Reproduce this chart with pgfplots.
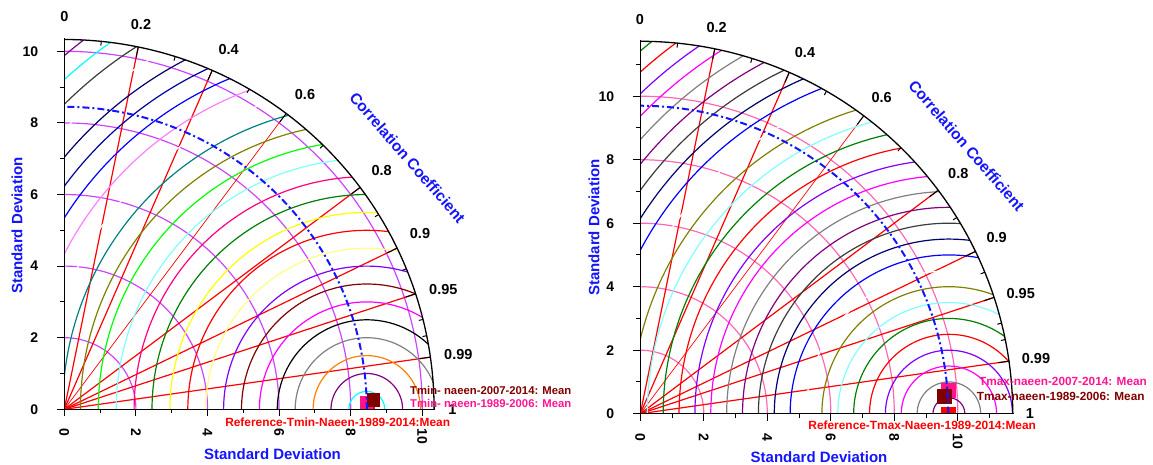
\documentclass[border=0pt]{standalone}
\usepackage{fontspec}
\setmainfont{Liberation Sans}
\usepackage{pgfplots}
\pgfplotsset{compat=1.18}
\newcommand{\fs}[1]{\fontsize{#1pt}{#1pt}\selectfont\bfseries}
\definecolor{stdviolet}{RGB}{204,68,255}
\definecolor{stdpink}{RGB}{255,105,180}
\definecolor{cpurple}{RGB}{128,0,128}
\definecolor{cgray}{RGB}{128,128,128}
\definecolor{cmag}{RGB}{255,0,255}
\definecolor{cbviolet}{RGB}{128,0,255}
\definecolor{cgreen}{RGB}{0,128,0}
\definecolor{clcyan}{RGB}{128,255,255}
\definecolor{colive}{RGB}{128,128,0}
\definecolor{cblue}{RGB}{0,0,255}
\definecolor{cnavy}{RGB}{0,0,110}
\definecolor{cnavytwo}{RGB}{0,0,160}
\definecolor{cdgray}{RGB}{60,60,60}
\definecolor{ccyan}{RGB}{0,255,255}
\definecolor{corange}{RGB}{255,128,0}
\definecolor{cmaroon}{RGB}{128,0,0}
\definecolor{clyellow}{RGB}{255,255,128}
\definecolor{cyellow}{RGB}{255,255,0}
\definecolor{cdpink}{RGB}{255,0,128}
\definecolor{clime}{RGB}{0,255,0}
\definecolor{cteal}{RGB}{0,128,128}
\definecolor{cplum}{RGB}{255,128,255}
\definecolor{lblue}{RGB}{20,20,255}
\definecolor{mpink}{RGB}{255,20,140}
\definecolor{tpink}{RGB}{255,20,147}
\definecolor{tmaroon}{RGB}{128,0,0}

% centred RMS circle: centre a, radius r, outer radius R, colour
\newcommand{\rms}[4]{%
  \pgfmathsetmacro{\ca}{(#3*#3-#1*#1-#2*#2)/(2*#1*#2)}%
  \pgfmathsetmacro{\pa}{acos(max(-1,min(1,\ca)))}%
  \pgfmathsetmacro{\cb}{max(-1,-#1/#2)}%
  \pgfmathsetmacro{\pb}{acos(\cb)}%
  \edef\tmpplot{\noexpand\addplot[#4, line width=1.2pt, domain=\pa:\pb, samples=90]}%
  \tmpplot ({#1+#2*cos(x)},{#2*sin(x)});}
% standard deviation circle
\newcommand{\stdc}[2]{\addplot[#2, line width=1.2pt, domain=0:90, samples=80] ({#1*cos(x)},{#1*sin(x)});}
% correlation line: c, R, style
\newcommand{\corr}[3]{\addplot[#3, domain=0:#2, samples=2] ({#1*x},{sqrt(1-#1*#1)*x});}
% arc tick: c, R, length
\newcommand{\atick}[3]{%
  \pgfmathsetmacro{\ta}{#2-#3}%
  \edef\tmpplot{\noexpand\addplot[black, line width=1pt, domain=\ta:#2, samples=2]}%
  \tmpplot ({#1*x},{sqrt(1-#1*#1)*x});}

\pgfplotsset{taylor/.style={
  axis x line*=bottom, axis y line*=left, axis on top, clip=true,
  clip marker paths=true,
  tick align=outside, major tick length=7pt, minor tick length=4pt,
  tick style={black, line width=1pt},
  axis line style={black, line width=1.3pt},
  ticklabel style={font=\fs{14}},
  /pgf/number format/assume math mode=true,
  xticklabel style={yshift=-9pt, rotate=-90, anchor=west},
  yticklabel style={anchor=east, xshift=-15.5pt},
}}

\begin{document}
\begin{tikzpicture}[x=1pt,y=1pt]
\path[use as bounding box] (0,0) rectangle (1153,464);

%================ LEFT =================
\begin{axis}[taylor, at={(64.3pt,54.7pt)}, anchor=origin,
  x=35.8pt, y=35.8pt, xmin=0, xmax=10.36, ymin=0, ymax=10.36,
  xtick={0,2,...,10}, ytick={0,2,...,10},
  minor xtick={1,3,...,9}, minor ytick={1,3,...,9}]
\stdc{2}{stdviolet}\stdc{4}{stdviolet}\stdc{6}{stdviolet}\stdc{8}{stdviolet}\stdc{10}{stdviolet}
\corr{0.2}{10.33}{red, line width=1.2pt}
\corr{0.4}{10.33}{red, line width=1.2pt}
\corr{0.6}{10.33}{red, line width=0.7pt}
\corr{0.8}{10.33}{red, line width=1.2pt}
\corr{0.9}{10.33}{red, line width=1.2pt}
\corr{0.95}{10.33}{red, line width=1.2pt}
\corr{0.99}{10.33}{red, line width=1.2pt}
\rms{8.45}{0.5}{10.33}{ccyan}
\rms{8.45}{1.0}{10.33}{cpurple}
\rms{8.45}{1.5}{10.33}{corange}
\rms{8.45}{2.0}{10.33}{cgray}
\rms{8.45}{2.5}{10.33}{black}
\rms{8.45}{3.0}{10.33}{cmag}
\rms{8.45}{3.5}{10.33}{cmaroon}
\rms{8.45}{4.0}{10.33}{cbviolet}
\rms{8.45}{4.5}{10.33}{clyellow}
\rms{8.45}{5.0}{10.33}{red}
\rms{8.45}{5.5}{10.33}{cyellow}
\rms{8.45}{6.0}{10.33}{cgreen}
\rms{8.45}{6.5}{10.33}{cdpink}
\rms{8.45}{7.0}{10.33}{clcyan}
\rms{8.45}{7.5}{10.33}{clime}
\rms{8.45}{8.0}{10.33}{colive}
\rms{8.45}{8.5}{10.33}{cteal}
\rms{8.45}{9.0}{10.33}{white}
\rms{8.45}{9.5}{10.33}{cplum}
\rms{8.45}{10.0}{10.33}{cblue}
\rms{8.45}{10.5}{10.33}{cnavytwo}
\rms{8.45}{11.0}{10.33}{cnavy}
\rms{8.45}{11.5}{10.33}{white}
\rms{8.45}{12.0}{10.33}{cdgray}
\rms{8.45}{12.5}{10.33}{ccyan}
\rms{8.45}{13.0}{10.33}{cpurple}
% outer arc
\addplot[black, line width=1.3pt, domain=0:90, samples=120] ({10.33*cos(x)},{10.33*sin(x)});
\atick{0.2}{10.33}{0.3}\atick{0.4}{10.33}{0.3}\atick{0.6}{10.33}{0.3}\atick{0.8}{10.33}{0.3}
\atick{0.9}{10.33}{0.3}\atick{0.95}{10.33}{0.3}\atick{0.99}{10.33}{0.3}
\atick{0.1}{10.33}{0.12}\atick{0.3}{10.33}{0.12}\atick{0.5}{10.33}{0.12}\atick{0.7}{10.33}{0.12}
\atick{0.85}{10.33}{0.12}\atick{0.925}{10.33}{0.12}\atick{0.97}{10.33}{0.12}\atick{0.98}{10.33}{0.12}
% markers
\addplot[only marks, mark=square*, mark size=6.2pt, red] coordinates {(8.48,0)};
\addplot[only marks, mark=square*, mark size=6.2pt, mpink] coordinates {(8.43,0.18)};
\addplot[only marks, mark=square*, mark size=6.2pt, cmaroon] coordinates {(8.62,0.27)};
% reference arc
\addplot[lblue, line width=2pt, dash pattern=on 7pt off 3pt on 2pt off 3pt, domain=0:90, samples=120] ({8.45*cos(x)},{8.45*sin(x)});
\end{axis}

%================ RIGHT =================
\begin{axis}[taylor, at={(640.3pt,50.3pt)}, anchor=origin,
  x=31.75pt, y=31.75pt, xmin=0, xmax=11.76, ymin=0, ymax=11.76,
  xtick={0,2,...,10}, ytick={0,2,...,10},
  minor xtick={1,3,...,11}, minor ytick={1,3,...,11}]
\stdc{2}{stdpink}\stdc{4}{stdpink}\stdc{6}{stdpink}\stdc{8}{stdpink}\stdc{10}{stdpink}
\corr{0.2}{11.73}{red, line width=1.2pt}
\corr{0.4}{11.73}{red, line width=1.2pt}
\corr{0.6}{11.73}{red, line width=0.7pt}
\corr{0.8}{11.73}{red, line width=1.2pt}
\corr{0.9}{11.73}{red, line width=1.2pt}
\corr{0.95}{11.73}{red, line width=1.2pt}
\corr{0.99}{11.73}{red, line width=1.2pt}
\rms{9.72}{0.5}{11.73}{cpurple}
\rms{9.72}{1.0}{11.73}{cgray}
\rms{9.72}{1.5}{11.73}{cmag}
\rms{9.72}{2.0}{11.73}{cbviolet}
\rms{9.72}{2.5}{11.73}{red}
\rms{9.72}{3.0}{11.73}{cgreen}
\rms{9.72}{3.5}{11.73}{clcyan}
\rms{9.72}{4.0}{11.73}{colive}
\rms{9.72}{4.5}{11.73}{white}
\rms{9.72}{5.0}{11.73}{cblue}
\rms{9.72}{5.5}{11.73}{cnavy}
\rms{9.72}{6.0}{11.73}{cdgray}
\rms{9.72}{6.5}{11.73}{cpurple}
\rms{9.72}{7.0}{11.73}{cgray}
\rms{9.72}{7.5}{11.73}{cmag}
\rms{9.72}{8.0}{11.73}{cbviolet}
\rms{9.72}{8.5}{11.73}{red}
\rms{9.72}{9.0}{11.73}{cgreen}
\rms{9.72}{9.5}{11.73}{clcyan}
\rms{9.72}{10.0}{11.73}{colive}
\rms{9.72}{10.5}{11.73}{white}
\rms{9.72}{11.0}{11.73}{cblue}
\rms{9.72}{11.5}{11.73}{cnavy}
\rms{9.72}{12.0}{11.73}{cdgray}
\rms{9.72}{12.5}{11.73}{cpurple}
\rms{9.72}{13.0}{11.73}{cgray}
\rms{9.72}{13.5}{11.73}{cmag}
\rms{9.72}{14.0}{11.73}{cbviolet}
\rms{9.72}{14.5}{11.73}{red}
\rms{9.72}{15.0}{11.73}{cgreen}
\addplot[black, line width=1.3pt, domain=0:90, samples=120] ({11.73*cos(x)},{11.73*sin(x)});
\atick{0.2}{11.73}{0.34}\atick{0.4}{11.73}{0.34}\atick{0.6}{11.73}{0.34}\atick{0.8}{11.73}{0.34}
\atick{0.9}{11.73}{0.34}\atick{0.95}{11.73}{0.34}\atick{0.99}{11.73}{0.34}
\atick{0.1}{11.73}{0.14}\atick{0.3}{11.73}{0.14}\atick{0.5}{11.73}{0.14}\atick{0.7}{11.73}{0.14}
\atick{0.85}{11.73}{0.14}\atick{0.925}{11.73}{0.14}\atick{0.97}{11.73}{0.14}\atick{0.98}{11.73}{0.14}
\addplot[only marks, mark=square*, mark size=7pt, red] coordinates {(9.71,0)};
\addplot[only marks, mark=square*, mark size=7pt, mpink] coordinates {(9.69,0.75)};
\addplot[only marks, mark=square*, mark size=7pt, cmaroon] coordinates {(9.56,0.54)};
\addplot[lblue, line width=2pt, dash pattern=on 7pt off 3pt on 2pt off 3pt, domain=0:90, samples=120] ({9.70*cos(x)},{9.70*sin(x)});
\end{axis}

%================ TEXT =================
% left
\node[lblue, font=\fs{15}] at (272.5,10) {Standard Deviation};
\node[lblue, font=\fs{15}, rotate=90] at (17,238.5) {Standard Deviation};
\node[lblue, font=\fs{15.5}, rotate=-49] at (407.5,306.5) {Correlation Coefficient};
\begin{scope}[every node/.style={font=\fs{14.5}}]
\node at (64.3,447.3) {0};
\node at (141,439) {0.2};
\node at (228.7,414.7) {0.4};
\node at (305,369.7) {0.6};
\node at (381.7,293.3) {0.8};
\node at (420,230) {0.9};
\node at (443.3,174) {0.95};
\node at (458.3,109) {0.99};
\node at (452.3,54.7) {1};
\end{scope}
\node[tmaroon, font=\fs{11.3}, anchor=west, inner sep=0pt] at (410,74) {Tmin- naeen-2007-2014: Mean};
\node[tpink, font=\fs{11.3}, anchor=west, inner sep=0pt] at (410,61) {Tmin- naeen-1989-2006: Mean};
\node[red, font=\fs{11.9}, inner sep=0pt] at (337.7,41.3) {Reference-Tmin-Naeen-1989-2014:Mean};
% right
\node[lblue, font=\fs{15}] at (819,7) {Standard Deviation};
\node[lblue, font=\fs{15}, rotate=90] at (594,236.5) {Standard Deviation};
\node[lblue, font=\fs{15.5}, rotate=-49] at (966.7,318.2) {Correlation Coefficient};
\begin{scope}[every node/.style={font=\fs{14.5}}]
\node at (640,444.7) {0};
\node at (716.7,436.7) {0.2};
\node at (805,411.7) {0.4};
\node at (881.7,366.7) {0.6};
\node at (958.3,290) {0.8};
\node at (996.7,226.7) {0.9};
\node at (1020.7,170.7) {0.95};
\node at (1036,105) {0.99};
\node at (1030,50.3) {1};
\end{scope}
\node[tpink, font=\fs{11.8}, anchor=west, inner sep=0pt] at (979,83) {Tmax-naeen-2007-2014: Mean};
\node[tmaroon, font=\fs{11.8}, anchor=west, inner sep=0pt] at (976.7,67.3) {Tmax-naeen-1989-2006: Mean};
\node[red, font=\fs{11.9}, inner sep=0pt] at (922.2,39) {Reference-Tmax-Naeen-1989-2014:Mean};
\end{tikzpicture}
\end{document}
